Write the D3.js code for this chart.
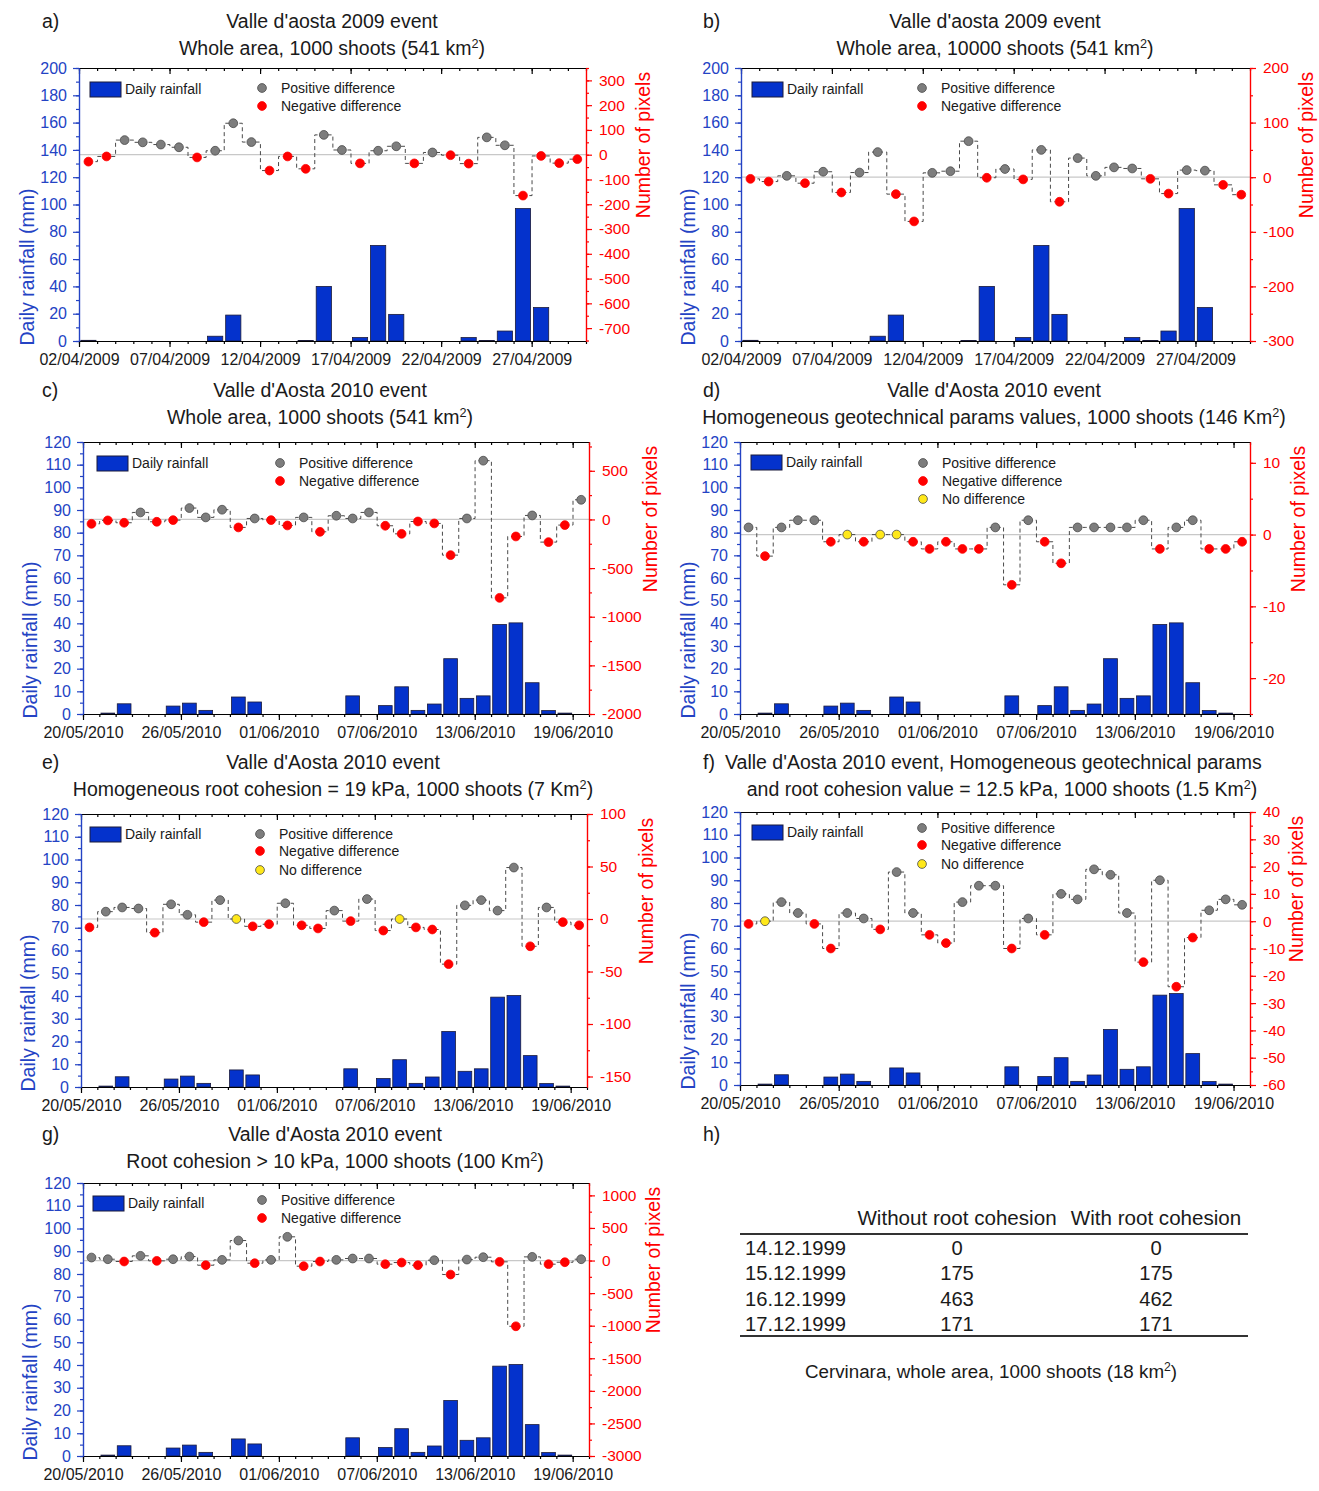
<!DOCTYPE html>
<html><head><meta charset="utf-8">
<script src="https://cdn.jsdelivr.net/npm/d3@7"></script>
<style>body{margin:0;background:#fff;} svg{display:block;font-family:"Liberation Sans",Arial,sans-serif;}</style>
</head><body><svg id="c" width="1319" height="1491"></svg>
<script>
// ---------------- DATA ----------------
const days2009 = ["2009-04-02","2009-04-03","2009-04-04","2009-04-05","2009-04-06","2009-04-07","2009-04-08","2009-04-09","2009-04-10","2009-04-11","2009-04-12","2009-04-13","2009-04-14","2009-04-15","2009-04-16","2009-04-17","2009-04-18","2009-04-19","2009-04-20","2009-04-21","2009-04-22","2009-04-23","2009-04-24","2009-04-25","2009-04-26","2009-04-27","2009-04-28","2009-04-29"];
const days2010 = ["2010-05-20","2010-05-21","2010-05-22","2010-05-23","2010-05-24","2010-05-25","2010-05-26","2010-05-27","2010-05-28","2010-05-29","2010-05-30","2010-05-31","2010-06-01","2010-06-02","2010-06-03","2010-06-04","2010-06-05","2010-06-06","2010-06-07","2010-06-08","2010-06-09","2010-06-10","2010-06-11","2010-06-12","2010-06-13","2010-06-14","2010-06-15","2010-06-16","2010-06-17","2010-06-18","2010-06-19"];
const ticks2009 = ["02/04/2009","07/04/2009","12/04/2009","17/04/2009","22/04/2009","27/04/2009"];
const ticks2010 = ["20/05/2010","26/05/2010","01/06/2010","07/06/2010","13/06/2010","19/06/2010"];

const rain2009 = [0.5,0,0,0,0,0,0,3.5,19,0,0,0,0.3,40,0,2.5,70,19.5,0,0,0,2.5,0.3,7.3,97,24.5,0,0];
const rain2010 = [0,0.4,4.5,0,0,3.5,4.8,1.6,0,7.5,5.3,0,0,0,0,0,8,0,3.7,12,1.6,4.4,24.4,6.9,8,39.5,40.2,13.8,1.5,0.4,0];

const diffA = [-28,-7,59,50,41,30,-11,16,127,51,-64,-7,-57,80,19,-35,16,34,-35,9,-2,-36,70,38,-165,-5,-34,-18];
const diffB = [-3,-8,2.5,-11,10,-28,8.5,46,-31,-81,8,11,66,-1,15,-4,50,-45,35,2.5,18,16,-3,-30,13,12,-14,-32];
const diffC = [-45,-10,-34,72,-24,-7,117,21,100,-82,10,-7,-62,21,-127,38,10,72,-65,-148,-21,-41,-367,10,604,-806,-175,41,-233,-58,202];
const diffD = [1,-3,1,2,2,-1,0,-1,0,0,-1,-2,-1,-2,-2,1,-7,2,-1,-4,1,1,1,1,2,-2,1,2,-2,-2,-1];
const diffE = [-8,7,11,10,-13,14,4,-3,18,0,-7,-5,15,-6,-9,8,-2,19,-11,0,-8,-10,-43,13,18,8,49,-26,11,-3,-6];
const diffF = [-1,0,7,3,-1,-10,3,1,-3,18,3,-5,-8,7,13,13,-10,1,-5,10,8,19,17,3,-15,15,-24,-6,4,8,6];
const diffG = [46,20,-15,72,-5,20,61,-72,10,307,-41,10,364,-87,-15,10,31,31,-56,-31,-72,5,-215,15,51,-20,-1009,56,-56,-26,20];

const tableHeaders = ["Without root cohesion","With root cohesion"];
const tableDates = ["14.12.1999","15.12.1999","16.12.1999","17.12.1999"];
const withoutRoot = [0,175,463,171];
const withRoot = [0,175,462,171];

// ---------------- DRAWING ----------------
const svg = d3.select("#c");
const parseISO = d3.utcParse("%Y-%m-%d");
const parseTick = d3.utcParse("%d/%m/%Y");
const BLUE = "#2443c4", RED = "#ff0000", BAR = "#0432cc", TXT = "#1a1a1a";
const numFmt = d => (d < 0 ? "-" + Math.abs(d) : String(d));

function richText(g, x, y, str, anchor, size) {
  const t = g.append("text").attr("x", x).attr("y", y).attr("text-anchor", anchor || "start")
    .attr("font-size", size).attr("fill", TXT);
  const parts = str.split("²");
  parts.forEach((p, i) => {
    if (i > 0) {
      t.append("tspan").attr("dy", -7).attr("font-size", size * 0.65).text("2");
      t.append("tspan").attr("dy", 7).text(p);
    } else t.append("tspan").text(p);
  });
  return t;
}

function styleAxis(sel, color, fontSize) {
  sel.attr("font-family", null).attr("font-size", fontSize);
  sel.selectAll("path,line").attr("stroke", color).attr("stroke-width", 1.2);
  sel.selectAll("text").attr("fill", color);
}

function drawPanel(p) {
  const g = svg.append("g");
  const dates = p.days.map(parseISO);
  const x0 = dates[0], x1 = d3.utcDay.offset(dates[dates.length - 1], 1);
  const x = d3.scaleUtc().domain([x0, x1]).range([p.L, p.R]);
  const dw = x(d3.utcDay.offset(x0, 1)) - x(x0);
  const yL = d3.scaleLinear().domain([0, p.leftMax]).range([p.B, p.T]);
  const yR = d3.scaleLinear().domain(p.rightDomain).range([p.B, p.T]);

  // zero line
  g.append("line").attr("x1", p.L).attr("x2", p.R).attr("y1", yR(0)).attr("y2", yR(0))
    .attr("stroke", "#c8c8c8").attr("stroke-width", 1.2);

  // bars
  g.selectAll("rect.bar").data(p.rain.map((v, i) => ({ v, d: dates[i] })).filter(o => o.v > 0)).join("rect")
    .attr("class", "bar")
    .attr("x", o => x(o.d) + dw * 0.1).attr("width", dw * 0.84)
    .attr("y", o => yL(o.v)).attr("height", o => p.B - yL(o.v))
    .attr("fill", BAR).attr("stroke", "#1b1b3a").attr("stroke-width", 0.8);

  // step line
  const pts = p.diff.map((v, i) => [x(dates[i]) + dw * 0.52, yR(v), v]);
  g.append("path").attr("d", d3.line().curve(d3.curveStep)(pts.map(q => [q[0], q[1]])))
    .attr("fill", "none").attr("stroke", "#4a4a4a").attr("stroke-width", 1).attr("stroke-dasharray", "4,3");

  // points
  g.selectAll("circle.pt").data(pts).join("circle").attr("class", "pt")
    .attr("cx", q => q[0]).attr("cy", q => q[1]).attr("r", 4.4)
    .attr("fill", q => q[2] > 0 ? "#7d7d7d" : (q[2] < 0 ? RED : "#ffe81a"))
    .attr("stroke", q => q[2] < 0 ? RED : "#4a4a4a").attr("stroke-width", 0.8);

  // bottom axis
  const dayTicks = d3.utcDay.range(x0, d3.utcDay.offset(x1, 1));
  const tickDates = p.ticks.map(parseTick);
  const bMin = g.append("g").attr("transform", `translate(0,${p.B})`)
    .call(d3.axisBottom(x).tickValues(dayTicks).tickSize(3).tickSizeOuter(0).tickFormat(""));
  styleAxis(bMin, "#000", 16);
  const bMaj = g.append("g").attr("transform", `translate(0,${p.B})`)
    .call(d3.axisBottom(x).tickValues(tickDates).tickSize(6).tickSizeOuter(0).tickPadding(7).tickFormat((d, i) => p.ticks[i]));
  styleAxis(bMaj, "#000", 16);
  bMaj.selectAll("text").attr("fill", TXT);
  // top axis (inward)
  const tMin = g.append("g").attr("transform", `translate(0,${p.T})`)
    .call(d3.axisBottom(x).tickValues(dayTicks).tickSize(3).tickSizeOuter(0).tickFormat(""));
  styleAxis(tMin, "#000", 12);
  const tMaj = g.append("g").attr("transform", `translate(0,${p.T})`)
    .call(d3.axisBottom(x).tickValues(tickDates).tickSize(6).tickSizeOuter(0).tickFormat(""));
  styleAxis(tMaj, "#000", 12);

  // left axis
  const lMin = g.append("g").attr("transform", `translate(${p.L},0)`)
    .call(d3.axisLeft(yL).tickValues(d3.range(0, p.leftMax + 0.001, p.leftMinor)).tickSize(3).tickSizeOuter(0).tickFormat(""));
  styleAxis(lMin, BLUE, 16);
  const lMaj = g.append("g").attr("transform", `translate(${p.L},0)`)
    .call(d3.axisLeft(yL).tickValues(d3.range(0, p.leftMax + 0.001, p.leftMajor)).tickSize(6).tickSizeOuter(0).tickPadding(6).tickFormat(numFmt));
  styleAxis(lMaj, BLUE, 16);

  // right axis
  const rMin = g.append("g").attr("transform", `translate(${p.R},0)`)
    .call(d3.axisRight(yR).tickValues(p.rightMinors).tickSize(3).tickSizeOuter(0).tickFormat(""));
  styleAxis(rMin, RED, 15.5);
  const rMaj = g.append("g").attr("transform", `translate(${p.R},0)`)
    .call(d3.axisRight(yR).tickValues(p.rightMajors).tickSize(6).tickSizeOuter(0).tickPadding(7).tickFormat(numFmt));
  styleAxis(rMaj, RED, 15.5);

  // axis titles
  g.append("text").attr("transform", `translate(${p.leftTitleX},${p.B - 74}) rotate(-90)`)
    .attr("text-anchor", "middle").attr("dominant-baseline", "middle").attr("font-size", 19.5).attr("fill", BLUE)
    .text("Daily rainfall (mm)");
  g.append("text").attr("transform", `translate(${p.rightTitleX},${p.T + 77}) rotate(-90)`)
    .attr("text-anchor", "middle").attr("dominant-baseline", "middle").attr("font-size", 19.5).attr("fill", RED)
    .text("Number of pixels");

  // legend
  const lg = p.legend;
  g.append("rect").attr("x", lg.rx).attr("y", lg.ry).attr("width", 31).attr("height", 15)
    .attr("fill", BAR).attr("stroke", "#1b1b3a").attr("stroke-width", 1);
  g.append("text").attr("x", lg.rx + 35).attr("y", lg.ry + 12).attr("font-size", 14).attr("fill", TXT).text("Daily rainfall");
  const items = [["Positive difference", "#7d7d7d", "#4a4a4a"], ["Negative difference", RED, RED], ["No difference", "#ffe81a", "#4a4a4a"]];
  lg.rows.forEach((yy, i) => {
    g.append("circle").attr("cx", lg.dx).attr("cy", yy).attr("r", 4.4).attr("fill", items[i][1]).attr("stroke", items[i][2]).attr("stroke-width", 0.8);
    g.append("text").attr("x", lg.dx + 19).attr("y", yy + 5).attr("font-size", 14).attr("fill", TXT).text(items[i][0]);
  });

  // titles
  richText(g, p.labelX, p.titleY, p.label, "start", 19.5);
  p.titles.forEach((t, i) => richText(g, t[1], p.titleY + 27 * i, t[0], t[2] || "middle", 19.5));
}

const panels = [
  { label: "a)", labelX: 42, titleY: 28, titles: [["Valle d'aosta 2009 event", 332], ["Whole area, 1000 shoots (541 km²)", 332]],
    L: 79, R: 586, T: 68, B: 341, days: days2009, rain: rain2009, diff: diffA, ticks: ticks2009,
    leftMax: 200, leftMajor: 20, leftMinor: 10,
    rightDomain: [-752, 350], rightMajors: d3.range(-700, 301, 100), rightMinors: d3.range(-750, 351, 50),
    leftTitleX: 29, rightTitleX: 645, legend: { rx: 90, ry: 82, dx: 262, rows: [88, 106] } },
  { label: "b)", labelX: 703, titleY: 28, titles: [["Valle d'aosta 2009 event", 995], ["Whole area, 10000 shoots (541 km²)", 995]],
    L: 741, R: 1250, T: 68, B: 341, days: days2009, rain: rain2009, diff: diffB, ticks: ticks2009,
    leftMax: 200, leftMajor: 20, leftMinor: 10,
    rightDomain: [-300, 200], rightMajors: d3.range(-300, 201, 100), rightMinors: d3.range(-300, 201, 50),
    leftTitleX: 690, rightTitleX: 1308, legend: { rx: 752, ry: 82, dx: 922, rows: [88, 106] } },
  { label: "c)", labelX: 42, titleY: 397, titles: [["Valle d'Aosta 2010 event", 320], ["Whole area, 1000 shoots (541 km²)", 320]],
    L: 83, R: 589, T: 442, B: 714, days: days2010, rain: rain2010, diff: diffC, ticks: ticks2010,
    leftMax: 120, leftMajor: 10, leftMinor: 5,
    rightDomain: [-2000, 796], rightMajors: d3.range(-2000, 501, 500), rightMinors: d3.range(-2000, 751, 250),
    leftTitleX: 32, rightTitleX: 652, legend: { rx: 97, ry: 456, dx: 280, rows: [463, 481] } },
  { label: "d)", labelX: 703, titleY: 397, titles: [["Valle d'Aosta 2010 event", 994], ["Homogeneous geotechnical params values, 1000 shoots (146 Km²)", 994]],
    L: 740, R: 1250, T: 442, B: 714, days: days2010, rain: rain2010, diff: diffD, ticks: ticks2010,
    leftMax: 120, leftMajor: 10, leftMinor: 5,
    rightDomain: [-25, 12.9], rightMajors: [-20, -10, 0, 10], rightMinors: d3.range(-25, 11, 5),
    leftTitleX: 690, rightTitleX: 1300, legend: { rx: 751, ry: 455, dx: 923, rows: [463, 481, 499] } },
  { label: "e)", labelX: 42, titleY: 769, titles: [["Valle d'Aosta 2010 event", 333], ["Homogeneous root cohesion = 19 kPa, 1000 shoots (7 Km²)", 333]],
    L: 81, R: 587, T: 814, B: 1087, days: days2010, rain: rain2010, diff: diffE, ticks: ticks2010,
    leftMax: 120, leftMajor: 10, leftMinor: 5,
    rightDomain: [-160, 100], rightMajors: d3.range(-150, 101, 50), rightMinors: d3.range(-150, 101, 25),
    leftTitleX: 30, rightTitleX: 648, legend: { rx: 90, ry: 827, dx: 260, rows: [834, 851, 870] } },
  { label: "f)", labelX: 703, titleY: 769, titles: [["Valle d'Aosta 2010 event, Homogeneous geotechnical params", 725, "start"], ["and root cohesion value = 12.5 kPa, 1000 shoots (1.5 Km²)", 1002]],
    L: 740, R: 1250, T: 812, B: 1085, days: days2010, rain: rain2010, diff: diffF, ticks: ticks2010,
    leftMax: 120, leftMajor: 10, leftMinor: 5,
    rightDomain: [-60, 40], rightMajors: d3.range(-60, 41, 10), rightMinors: d3.range(-60, 41, 5),
    leftTitleX: 690, rightTitleX: 1298, legend: { rx: 752, ry: 825, dx: 922, rows: [828, 845, 864] } },
  { label: "g)", labelX: 42, titleY: 1141, titles: [["Valle d'Aosta 2010 event", 335], ["Root cohesion > 10 kPa, 1000 shoots (100 Km²)", 335]],
    L: 83, R: 589, T: 1183, B: 1456, days: days2010, rain: rain2010, diff: diffG, ticks: ticks2010,
    leftMax: 120, leftMajor: 10, leftMinor: 5,
    rightDomain: [-3000, 1190], rightMajors: d3.range(-3000, 1001, 500), rightMinors: d3.range(-3000, 1001, 250),
    leftTitleX: 32, rightTitleX: 655, legend: { rx: 93, ry: 1196, dx: 262, rows: [1200, 1218] } }
];
panels.forEach(drawPanel);

// ---------------- TABLE (h) ----------------
const tg = svg.append("g");
tg.append("text").attr("x", 703).attr("y", 1141).attr("font-size", 19.5).attr("fill", TXT).text("h)");
const colX = [957, 1156];
tableHeaders.forEach((h, i) => tg.append("text").attr("x", colX[i]).attr("y", 1225).attr("text-anchor", "middle")
  .attr("font-size", 20.6).attr("fill", TXT).text(h));
tg.append("line").attr("x1", 740).attr("x2", 1248).attr("y1", 1234).attr("y2", 1234).attr("stroke", "#333").attr("stroke-width", 2);
tg.append("line").attr("x1", 740).attr("x2", 1248).attr("y1", 1336).attr("y2", 1336).attr("stroke", "#333").attr("stroke-width", 2);
tableDates.forEach((d, i) => {
  const yy = 1255 + 25.3 * i;
  tg.append("text").attr("x", 745).attr("y", yy).attr("font-size", 20.2).attr("fill", TXT).text(d);
  tg.append("text").attr("x", colX[0]).attr("y", yy).attr("text-anchor", "middle").attr("font-size", 20.2).attr("fill", TXT).text(withoutRoot[i]);
  tg.append("text").attr("x", colX[1]).attr("y", yy).attr("text-anchor", "middle").attr("font-size", 20.2).attr("fill", TXT).text(withRoot[i]);
});
richText(tg, 991, 1378, "Cervinara, whole area, 1000 shoots (18 km²)", "middle", 18.8);
</script></body></html>
